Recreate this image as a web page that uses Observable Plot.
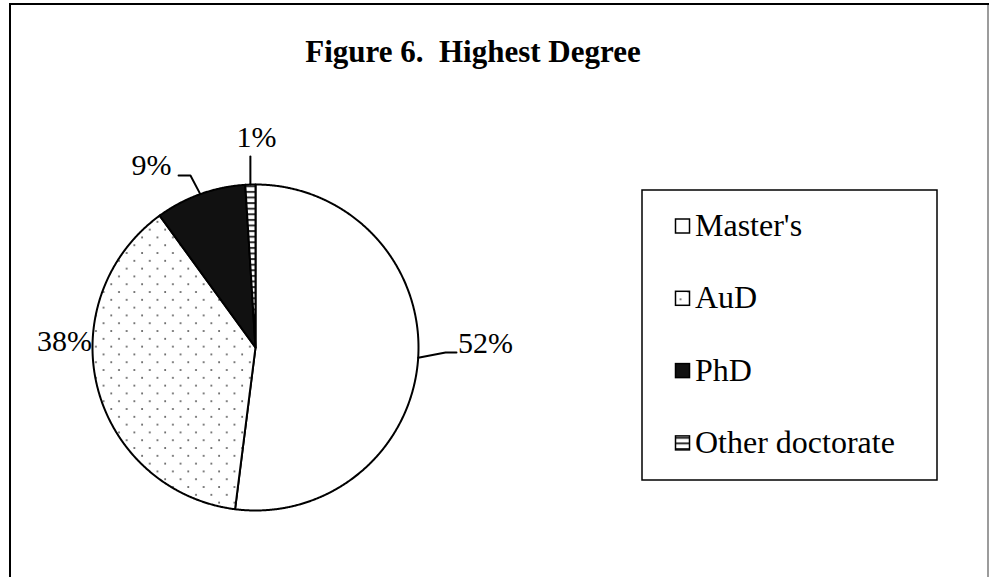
<!DOCTYPE html>
<html>
<head>
<meta charset="utf-8">
<script src="https://cdn.jsdelivr.net/npm/d3@7"></script>
<script src="https://cdn.jsdelivr.net/npm/@observablehq/plot@0.6"></script>
<style>
  html, body { margin: 0; padding: 0; background: #fff; }
  body { width: 989px; height: 577px; overflow: hidden; position: relative; }
  #chart { position: absolute; left: 0; top: 0; }
</style>
</head>
<body>
<div id="chart"></div>
<script>
// ---- data ----
const categories = ["Master's", "AuD", "PhD", "Other doctorate"];
const percents = [52, 38, 9, 1];
const labelTexts = ["52%", "38%", "9%", "1%"];
const titleText = "Figure 6.  Highest Degree";

// ---- styles / layout (not data) ----
const fills = ["#ffffff", "url(#dots)", "#111111", "url(#hlines)"];
const W = 989, H = 577, CX = 255, CY = 347, R = 163;
const FONT = "'Liberation Serif', 'Times New Roman', serif";
// label centres, in pie-radius units relative to the pie centre
const labelPos = [[1.411, 0.025], [-1.172, 0.037], [-0.638, 1.117], [0.006, 1.288]];
// leader elbows / ends (null = no leader)
const leaderPts = [
  [[1.166, -0.031], [1.233, -0.031]],
  null,
  [[-0.399, 1.055], [-0.472, 1.055]],
  [[null, 1.172]]
];

const arcs = d3.pie().sort(null).value(d => d)(percents);
const pt = (a, r = 1) => ({x: r * Math.sin(a), y: r * Math.cos(a)});

const slices = arcs.map((a, i) => {
  const pts = [{x: 0, y: 0}];
  const n = Math.max(4, Math.ceil((a.endAngle - a.startAngle) / 0.005));
  for (let k = 0; k <= n; k++) pts.push(pt(a.startAngle + (a.endAngle - a.startAngle) * k / n));
  return {cat: categories[i], pts};
});

const labelData = arcs.map((a, i) => ({x: labelPos[i][0], y: labelPos[i][1], text: labelTexts[i]}));

const leaders = [];
arcs.forEach((a, i) => {
  if (!leaderPts[i]) return;
  const mid = (a.startAngle + a.endAngle) / 2;
  const p0 = pt(mid);
  leaders.push({k: i, x: p0.x, y: p0.y});
  leaderPts[i].forEach(([x, y]) => leaders.push({k: i, x: x == null ? p0.x : x, y}));
});

const marks = slices.map((s, i) => Plot.line(s.pts, {
  x: "x", y: "y", curve: "linear-closed",
  fill: fills[i], stroke: "#000", strokeWidth: 2, strokeLinejoin: "round"
}));
marks.push(Plot.line(leaders, {x: "x", y: "y", z: "k", stroke: "#000", strokeWidth: 2}));
marks.push(Plot.text(labelData, {x: "x", y: "y", text: "text", fontSize: 30, fontFamily: FONT, fill: "#000"}));

const svg = Plot.plot({
  width: W, height: H, margin: 0,
  x: {domain: [(0 - CX) / R, (W - CX) / R], range: [0, W], axis: null},
  y: {domain: [(CY - H) / R, CY / R], range: [H, 0], axis: null},
  style: {background: "transparent", fontFamily: FONT},
  marks
});

const s = d3.select(svg);
const defs = s.insert("defs", ":first-child");
const dots = defs.append("pattern").attr("id", "dots").attr("patternUnits", "userSpaceOnUse")
  .attr("width", 15.4).attr("height", 15.6);
dots.append("rect").attr("width", 15.4).attr("height", 15.6).attr("fill", "#fff");
dots.append("circle").attr("cx", 3).attr("cy", 3).attr("r", 1).attr("fill", "#555");
dots.append("circle").attr("cx", 10.7).attr("cy", 10.8).attr("r", 1).attr("fill", "#555");
const hl = defs.append("pattern").attr("id", "hlines").attr("patternUnits", "userSpaceOnUse")
  .attr("width", 6).attr("height", 5.6);
hl.append("rect").attr("width", 6).attr("height", 5.6).attr("fill", "#fff");
hl.append("rect").attr("y", 0).attr("width", 6).attr("height", 2).attr("fill", "#333");

// outer frame
s.append("path").attr("d", `M10,${H + 20} V4 H988 V${H + 20}`).attr("fill", "none")
  .attr("stroke", "#000").attr("stroke-width", 2);
s.append("line").attr("x1", 988).attr("x2", 988).attr("y1", 5).attr("y2", H + 20)
  .attr("stroke", "#d0d0d0").attr("stroke-width", 1.5);

// title
s.append("text").attr("x", 473).attr("y", 62).attr("text-anchor", "middle")
  .attr("font-family", FONT).attr("font-weight", "bold").attr("font-size", 31)
  .style("white-space", "pre").attr("xml:space", "preserve").text(titleText);

// legend
const lg = s.append("g").attr("text-anchor", "start");
lg.append("rect").attr("x", 642).attr("y", 190).attr("width", 295).attr("height", 290)
  .attr("fill", "#fff").attr("stroke", "#000").attr("stroke-width", 1.5);
categories.forEach((c, i) => {
  const base = 236 + i * 72.3;
  lg.append("rect").attr("x", 675.5).attr("y", base - 17).attr("width", 14).attr("height", 14)
    .attr("fill", fills[i]).attr("stroke", "#000").attr("stroke-width", 1.5);
  lg.append("text").attr("x", 695).attr("y", base).attr("text-anchor", "start")
    .attr("font-family", FONT).attr("font-size", 32).attr("fill", "#000").text(c);
});

document.getElementById("chart").appendChild(svg);
</script>
</body>
</html>
